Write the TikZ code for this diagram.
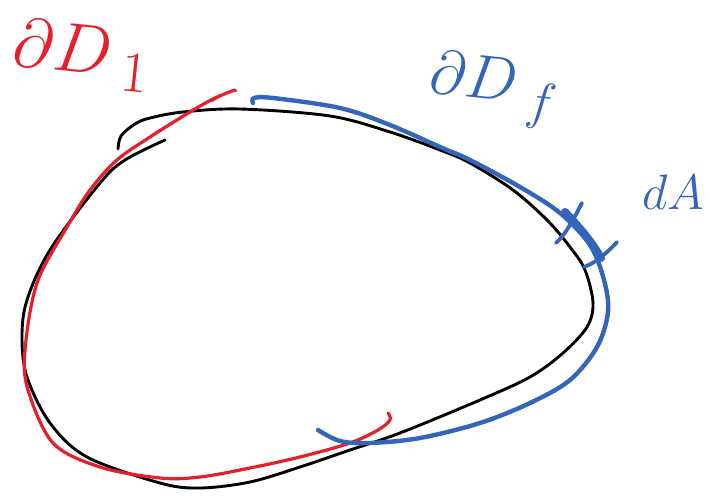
\documentclass[tikz,border=0pt]{standalone}
\usepackage{amsmath}
\begin{document}
\begin{tikzpicture}[x=1pt,y=-1pt,
  blk/.style={draw=black,line width=2.9pt,line cap=round,line join=round},
  redc/.style={draw=sketchred,line width=3.2pt,line cap=round,line join=round},
  bluec/.style={draw=sketchblue,line width=4.4pt,line cap=round,line join=round},
  lbl/.style={inner sep=0pt,font=\Huge}]
\definecolor{sketchred}{HTML}{E5202B}
\definecolor{sketchblue}{HTML}{3366BB}
\useasboundingbox (0,0) rectangle (709,495);
% black curve
\draw[blk] plot[smooth,tension=0.55] coordinates {(118,149) (121,136) (135,124) (150,118) (183,112) (240,109) (330,116) (390,132) (440,150) (470,163) (513,190) (547,220) (570,247) (585,270) (593,303) (587,327) (563,353) (530,377) (480,400) (400,433) (350,450) (300,467) (250,482) (200,488) (160,483) (87,457) (50,423) (27,377) (22,337) (27,300) (50,250) (100,183) (125,160) (165,140)};
% red curve
\draw[redc] plot[smooth,tension=0.55] coordinates {(235,90) (215,98) (190,112) (150,137) (117,160) (90,190) (67,227) (37,283) (25,350) (28,390) (53,443) (100,467) (160,478) (200,477) (250,468) (300,457) (350,443) (378,430) (390,420) (388,413)};
\draw[redc,line width=2pt] (212,101) .. controls (225,93) and (236,88) .. (236,91);
% blue curve
\draw[bluec] plot[smooth,tension=0.55] coordinates {(253,103) (254,98) (273,98) (340,108) (390,125) (440,147) (470,160) (520,187) (560,213) (590,245) (604,280) (608,312) (597,347) (570,380) (530,403) (480,423) (420,438) (370,443) (340,441) (318,430)};
% dA element
\draw[sketchblue,line width=8pt,line cap=round] (565,212) .. controls (580,228) and (592,242) .. (601,258);
\draw[bluec,line width=3.8pt] (582,203) .. controls (572,222) and (565,235) .. (556,243);
\draw[bluec,line width=3.8pt] (617,242) .. controls (605,255) and (595,263) .. (584,267);
% labels
\node[lbl,text=sketchred,scale=2.8,rotate=-6] (l1) at (82,55) {$\partial D\,{}_1$};
\node[lbl,text=sketchblue,scale=2.5,rotate=-6] (l2) at (494,90) {$\partial D\,{}_f$};
\node[lbl,text=sketchblue,scale=2.0] (l3) at (673,192) {$dA$};
\end{tikzpicture}
\end{document}
